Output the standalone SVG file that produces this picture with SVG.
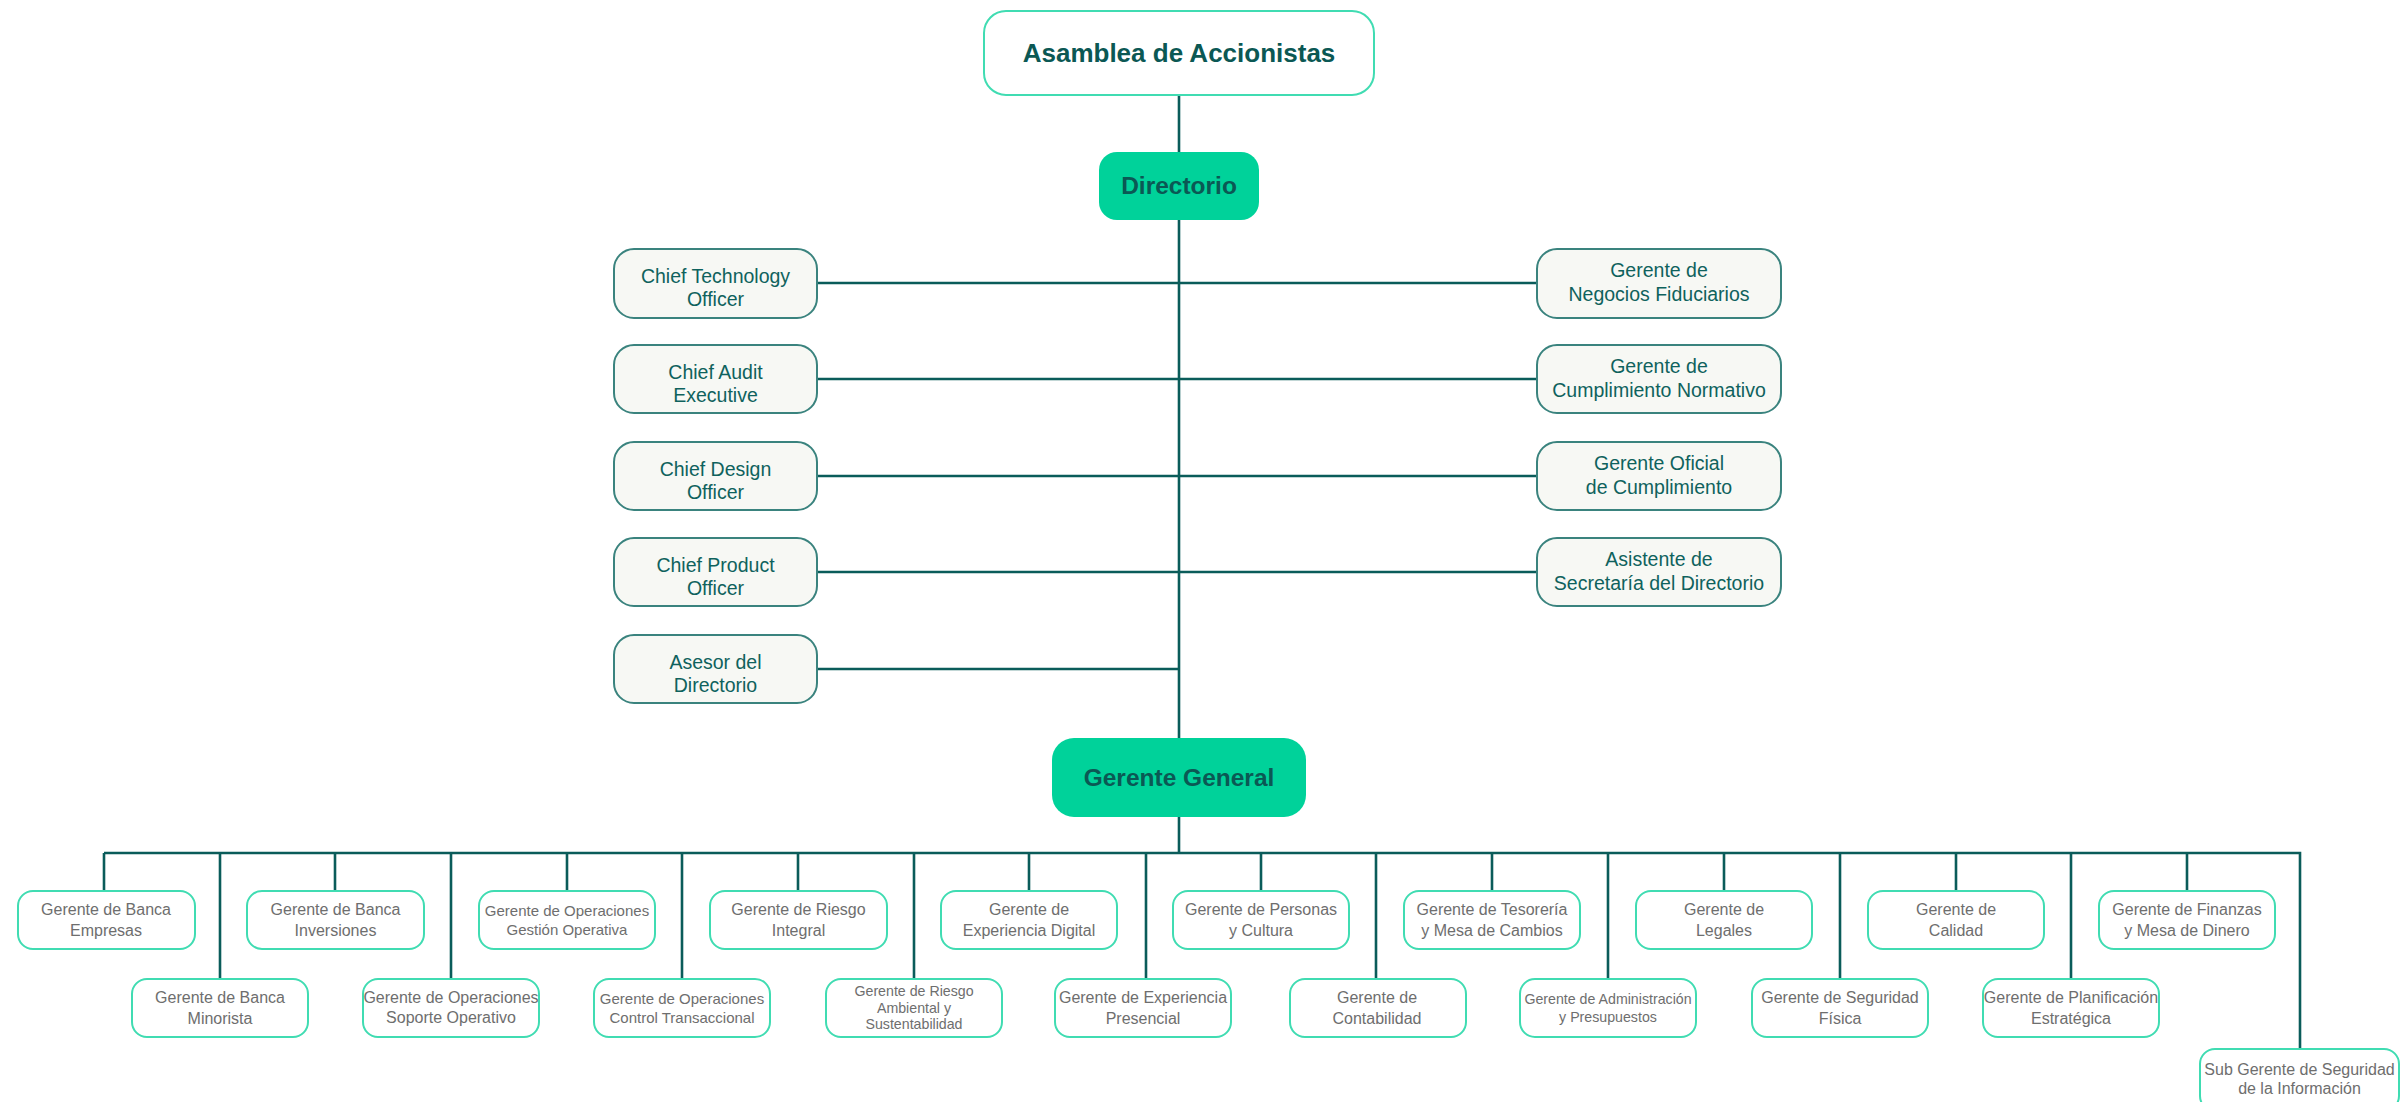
<svg xmlns="http://www.w3.org/2000/svg" width="2407" height="1102" viewBox="0 0 2407 1102">
<style>
.bg{fill:#ffffff}
.ln{stroke:#0a5c5a;stroke-width:2.6;fill:none}
.top{fill:#ffffff;stroke:#40dcb2;stroke-width:2}
.grn{fill:#00d29a;stroke:none}
.side{fill:#f7f8f4;stroke:#3a837e;stroke-width:2}
.bot{fill:#ffffff;stroke:#40dcb2;stroke-width:2}
.tb{font-family:"Liberation Sans",Arial,sans-serif;font-weight:bold;fill:#0b5854;text-anchor:middle}
.ts{font-family:"Liberation Sans",Arial,sans-serif;font-size:19.5px;fill:#0f625d;text-anchor:middle}
.tg{font-family:"Liberation Sans",Arial,sans-serif;font-size:16px;fill:#6e6e6e;text-anchor:middle}
.s15{font-size:15px}
.s14{font-size:14.2px}
</style>
<rect class="bg" x="0" y="0" width="2407" height="1102"/>

<g id="connectors">
<path class="ln" d="M1179 95V152M1179 220V738M1179 817V853"/>
<path class="ln" d="M817 283H1537M817 379H1537M817 476H1537M817 572H1537M817 669H1179"/>
<path class="ln" d="M104 853H2300V1049"/>
<path class="ln" d="M104 853V891M220 853V979M335 853V891M451 853V979M567 853V891M682 853V979M798 853V891M914 853V979M1029 853V891M1146 853V979M1261 853V891M1376 853V979M1492 853V891M1608 853V979M1724 853V891M1840 853V979M1956 853V891M2071 853V979M2187 853V891"/>
</g>

<g id="asamblea">
<rect class="top" x="984" y="11" width="390" height="84" rx="22"/>
<text class="tb" x="1179" y="62" font-size="26">Asamblea de Accionistas</text>
</g>
<g id="directorio">
<rect class="grn" x="1099" y="152" width="160" height="68" rx="18"/>
<text class="tb" x="1179" y="194" font-size="24.5">Directorio</text>
</g>
<g id="gerente-general">
<rect class="grn" x="1052" y="738" width="254" height="79" rx="22"/>
<text class="tb" x="1179" y="786" font-size="24.5">Gerente General</text>
</g>

<g id="cto"><rect class="side" x="614" y="249" width="203" height="69" rx="20"/><text class="ts" x="715.5" y="283">Chief Technology</text><text class="ts" x="715.5" y="306">Officer</text></g>
<g id="cae"><rect class="side" x="614" y="345" width="203" height="68" rx="20"/><text class="ts" x="715.5" y="379">Chief Audit</text><text class="ts" x="715.5" y="402">Executive</text></g>
<g id="cdo"><rect class="side" x="614" y="442" width="203" height="68" rx="20"/><text class="ts" x="715.5" y="476">Chief Design</text><text class="ts" x="715.5" y="499">Officer</text></g>
<g id="cpo"><rect class="side" x="614" y="538" width="203" height="68" rx="20"/><text class="ts" x="715.5" y="572">Chief Product</text><text class="ts" x="715.5" y="595">Officer</text></g>
<g id="asesor"><rect class="side" x="614" y="635" width="203" height="68" rx="20"/><text class="ts" x="715.5" y="669">Asesor del</text><text class="ts" x="715.5" y="692">Directorio</text></g>

<g id="fiduciarios"><rect class="side" x="1537" y="249" width="244" height="69" rx="20"/><text class="ts" x="1659" y="277">Gerente de</text><text class="ts" x="1659" y="301">Negocios Fiduciarios</text></g>
<g id="cumplimiento-normativo"><rect class="side" x="1537" y="345" width="244" height="68" rx="20"/><text class="ts" x="1659" y="373">Gerente de</text><text class="ts" x="1659" y="397">Cumplimiento Normativo</text></g>
<g id="oficial-cumplimiento"><rect class="side" x="1537" y="442" width="244" height="68" rx="20"/><text class="ts" x="1659" y="470">Gerente Oficial</text><text class="ts" x="1659" y="494">de Cumplimiento</text></g>
<g id="secretaria"><rect class="side" x="1537" y="538" width="244" height="68" rx="20"/><text class="ts" x="1659" y="566">Asistente de</text><text class="ts" x="1659" y="590">Secretaría del Directorio</text></g>

<g id="banca-empresas"><rect class="bot" x="18" y="891" width="177" height="58" rx="15"/><text class="tg" x="106" y="915">Gerente de Banca</text><text class="tg" x="106" y="936">Empresas</text></g>
<g id="banca-minorista"><rect class="bot" x="132" y="979" width="176" height="58" rx="15"/><text class="tg" x="220" y="1003">Gerente de Banca</text><text class="tg" x="220" y="1024">Minorista</text></g>
<g id="banca-inversiones"><rect class="bot" x="247" y="891" width="177" height="58" rx="15"/><text class="tg" x="335.5" y="915">Gerente de Banca</text><text class="tg" x="335.5" y="936">Inversiones</text></g>
<g id="ops-soporte"><rect class="bot" x="363" y="979" width="176" height="58" rx="15"/><text class="tg" x="451" y="1003" font-size="15.5">Gerente de Operaciones</text><text class="tg" x="451" y="1023" font-size="15.5">Soporte Operativo</text></g>
<g id="ops-gestion"><rect class="bot" x="479" y="891" width="176" height="58" rx="15"/><text class="tg s15" x="567" y="915.5">Gerente de Operaciones</text><text class="tg s15" x="567" y="934.5">Gestión Operativa</text></g>
<g id="ops-control"><rect class="bot" x="594" y="979" width="176" height="58" rx="15"/><text class="tg s15" x="682" y="1003.5">Gerente de Operaciones</text><text class="tg s15" x="682" y="1022.5">Control Transaccional</text></g>
<g id="riesgo-integral"><rect class="bot" x="710" y="891" width="177" height="58" rx="15"/><text class="tg" x="798.5" y="915">Gerente de Riesgo</text><text class="tg" x="798.5" y="936">Integral</text></g>
<g id="riesgo-ambiental"><rect class="bot" x="826" y="979" width="176" height="58" rx="15"/><text class="tg s14" x="914" y="996">Gerente de Riesgo</text><text class="tg s14" x="914" y="1013">Ambiental y</text><text class="tg s14" x="914" y="1029">Sustentabilidad</text></g>
<g id="experiencia-digital"><rect class="bot" x="941" y="891" width="176" height="58" rx="15"/><text class="tg" x="1029" y="915">Gerente de</text><text class="tg" x="1029" y="936">Experiencia Digital</text></g>
<g id="experiencia-presencial"><rect class="bot" x="1055" y="979" width="176" height="58" rx="15"/><text class="tg" x="1143" y="1003">Gerente de Experiencia</text><text class="tg" x="1143" y="1024">Presencial</text></g>
<g id="personas"><rect class="bot" x="1173" y="891" width="176" height="58" rx="15"/><text class="tg" x="1261" y="915">Gerente de Personas</text><text class="tg" x="1261" y="936">y Cultura</text></g>
<g id="contabilidad"><rect class="bot" x="1290" y="979" width="176" height="58" rx="15"/><text class="tg" x="1377" y="1003">Gerente de</text><text class="tg" x="1377" y="1024">Contabilidad</text></g>
<g id="tesoreria"><rect class="bot" x="1404" y="891" width="176" height="58" rx="15"/><text class="tg" x="1492" y="915">Gerente de Tesorería</text><text class="tg" x="1492" y="936">y Mesa de Cambios</text></g>
<g id="administracion"><rect class="bot" x="1520" y="979" width="176" height="58" rx="15"/><text class="tg s14" x="1608" y="1004">Gerente de Administración</text><text class="tg s14" x="1608" y="1022">y Presupuestos</text></g>
<g id="legales"><rect class="bot" x="1636" y="891" width="176" height="58" rx="15"/><text class="tg" x="1724" y="915">Gerente de</text><text class="tg" x="1724" y="936">Legales</text></g>
<g id="seguridad-fisica"><rect class="bot" x="1752" y="979" width="176" height="58" rx="15"/><text class="tg" x="1840" y="1003">Gerente de Seguridad</text><text class="tg" x="1840" y="1024">Física</text></g>
<g id="calidad"><rect class="bot" x="1868" y="891" width="176" height="58" rx="15"/><text class="tg" x="1956" y="915">Gerente de</text><text class="tg" x="1956" y="936">Calidad</text></g>
<g id="planificacion"><rect class="bot" x="1983" y="979" width="176" height="58" rx="15"/><text class="tg" x="2071" y="1003">Gerente de Planificación</text><text class="tg" x="2071" y="1024">Estratégica</text></g>
<g id="finanzas"><rect class="bot" x="2099" y="891" width="176" height="58" rx="15"/><text class="tg" x="2187" y="915">Gerente de Finanzas</text><text class="tg" x="2187" y="936">y Mesa de Dinero</text></g>
<g id="seguridad-informacion"><rect class="bot" x="2200" y="1049" width="199" height="62" rx="15"/><text class="tg" x="2299.5" y="1074.5" font-size="15.5">Sub Gerente de Seguridad</text><text class="tg" x="2299.5" y="1093.5" font-size="15.5">de la Información</text></g>
</svg>
